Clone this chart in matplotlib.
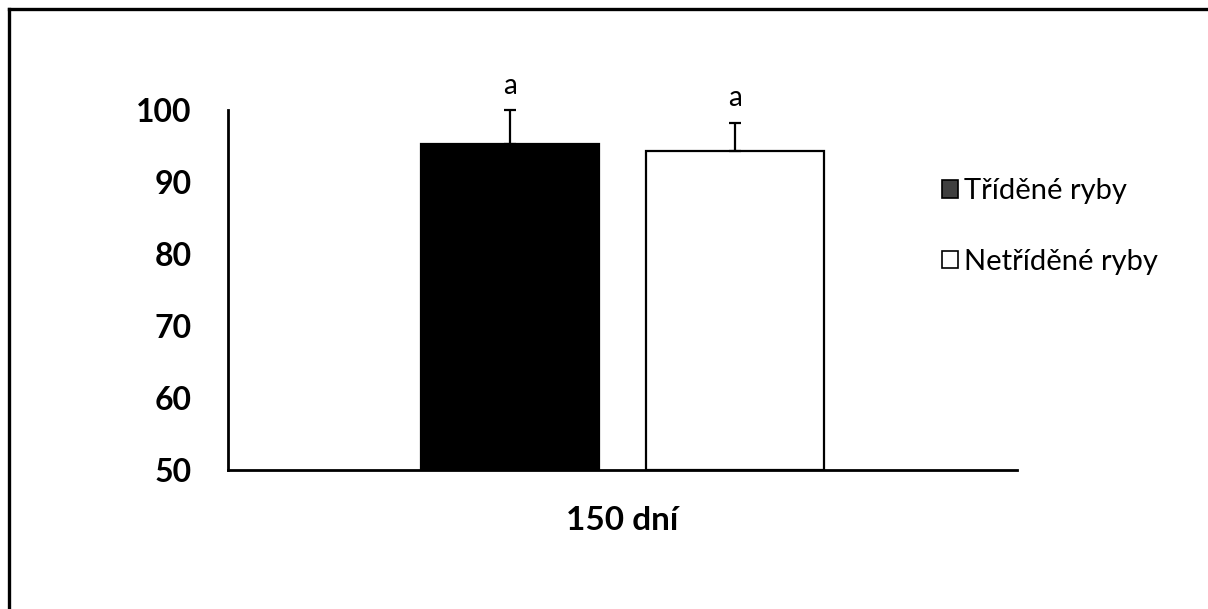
import matplotlib.pyplot as plt
from matplotlib.patches import Patch
from matplotlib.lines import Line2D

# survival after 150 days, sorted vs. unsorted fish
groups = ['Tříděné ryby', 'Netříděné ryby']
means = [95.3, 94.3]
errors = [4.7, 3.9]
letters = ['a', 'a']
category = '150 dní'

plt.rcParams['font.family'] = ['Lato', 'DejaVu Sans']

fig = plt.figure(figsize=(12.08, 6.09), dpi=100)
ax = fig.add_axes([0.1887, 0.2282, 0.6532, 0.5912])

positions = [-0.142, 0.142]
colors = ['black', 'white']
for x, m, e, c in zip(positions, means, errors, colors):
    ax.bar(x, m - 50, bottom=50, width=0.2256, color=c,
           edgecolor='black', linewidth=1.6, zorder=2)
    ax.errorbar(x, m, yerr=[[0], [e]], fmt='none', ecolor='black',
                elinewidth=1.6, capsize=4, capthick=1.6, clip_on=False, zorder=3)

for x, m, e, t in zip(positions, means, errors, letters):
    ax.text(x, m + e + 3.4, t, ha='center', va='center', fontsize=20,
            clip_on=False)

ax.set_xlim(-0.5, 0.5)
ax.set_ylim(50, 100)
ax.set_yticks([50, 60, 70, 80, 90, 100])
ax.tick_params(axis='y', length=0, pad=26, labelsize=23)
for lbl in ax.get_yticklabels():
    lbl.set_fontweight('bold')
ax.set_xticks([])
ax.set_xlabel(category, fontsize=24, fontweight='bold', labelpad=26)

for side in ['top', 'right']:
    ax.spines[side].set_visible(False)
for side in ['left', 'bottom']:
    ax.spines[side].set_linewidth(2)

handles = [Patch(facecolor='#404040', edgecolor='black', linewidth=1.2),
           Patch(facecolor='white', edgecolor='black', linewidth=1.2)]
fig.legend(handles, groups, loc='upper left', bbox_to_anchor=(0.758, 0.75),
           frameon=False, fontsize=21, handlelength=0.55, handleheight=0.55,
           handletextpad=0.2, labelspacing=1.52)

# outer frame (top and left edges only)
fig.add_artist(Line2D([0.0075, 0.0075], [0, 0.985], color='black', lw=2.4))
fig.add_artist(Line2D([0.0075, 1], [0.985, 0.985], color='black', lw=2.4))

fig.savefig('out.png', dpi=100)
